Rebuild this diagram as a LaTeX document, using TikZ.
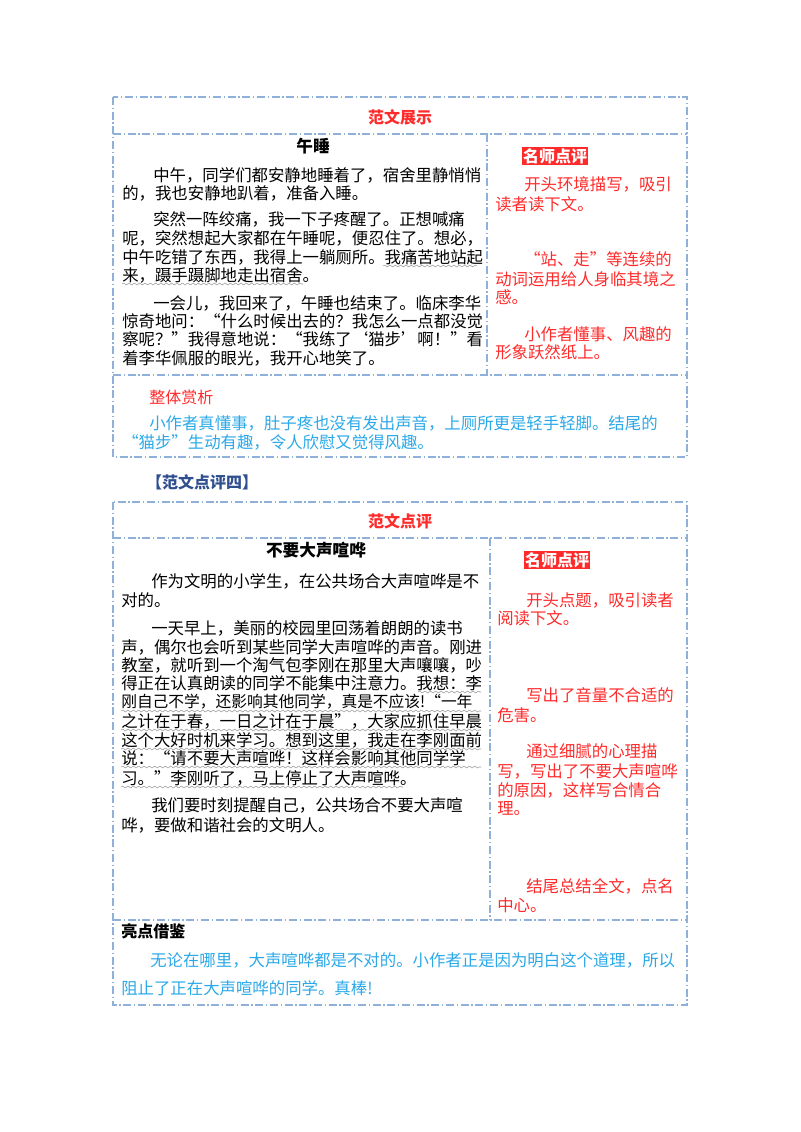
\documentclass[tikz,border=0pt]{standalone}
\usepackage{fontspec}
\setmainfont{Noto Sans CJK SC}
\usetikzlibrary{decorations.pathmorphing}
\definecolor{frame}{HTML}{8FB0D8}
\definecolor{rd}{HTML}{FF2A2A}
\definecolor{bl}{HTML}{2AA8E8}
\definecolor{hd}{HTML}{2F4F8F}
\begin{document}
\begin{tikzpicture}[x=0.75pt,y=-0.75pt,
  box/.style={draw=frame,line width=0.8pt,dash pattern=on 6pt off 2pt on 1pt off 2pt},
  txt/.style={anchor=west,inner sep=0pt,font=\fontsize{12.3pt}{14pt}\selectfont},
  rt/.style={txt,text=rd},
  bt/.style={txt,text=bl},
  ttl/.style={inner sep=0pt,font=\fontsize{12pt}{14pt}\selectfont\bfseries},
  tag/.style={fill=rd,text=white,inner sep=1pt,font=\fontsize{12pt}{14pt}\selectfont\bfseries},
  wavy/.style={draw=gray!80,line width=0.4pt,decorate,decoration={snake,segment length=4pt,amplitude=0.7pt}}]
\useasboundingbox (0,0) rectangle (800,1132);
% box 1
\draw[box] (113,97) rectangle (687,457);
\draw[box] (113,134) -- (687,134);
\draw[box] (113,375) -- (687,375);
\draw[box] (487,134) -- (487,375);
\node[ttl,text=rd] (t1) at (400,117) {范文展示};
\node[ttl,font=\fontsize{12.5pt}{14pt}\selectfont\bfseries] (s1) at (313,146) {午睡};
\node[tag] (m1) at (555,156) {名师点评};
\node[txt] (a1) at (153,175) {中午，同学们都安静地睡着了，宿舍里静悄悄};
\node[txt] (a2) at (122,193) {的，我也安静地趴着，准备入睡。};
\node[txt] (a3) at (153,219) {突然一阵绞痛，我一下子疼醒了。正想喊痛};
\node[txt] (a4) at (122,238) {呢，突然想起大家都在午睡呢，便忍住了。想必，};
\node[txt] (a5) at (122,257) {中午吃错了东西，我得上一躺厕所。我痛苦地站起};
\node[txt] (a6) at (122,275) {来，蹑手蹑脚地走出宿舍。};
\node[txt] (a7) at (153,303) {一会儿，我回来了，午睡也结束了。临床李华};
\node[txt] (a8) at (122,321) {惊奇地问：“什么时候出去的？我怎么一点都没觉};
\node[txt] (a9) at (122,339) {察呢？”我得意地说：“我练了‘猫步’啊！”看};
\node[txt] (a10) at (122,358) {着李华佩服的眼光，我开心地笑了。};
\draw[wavy] (383,266) -- (477,266);
\draw[wavy] (122,284) -- (303,284);
\node[rt] (r1) at (524,184) {开头环境描写，吸引};
\node[rt] (r2) at (495,204) {读者读下文。};
\node[rt] (r3) at (524,259) {“站、走”等连续的};
\node[rt] (r4) at (495,279) {动词运用给人身临其境之};
\node[rt] (r5) at (495,297) {感。};
\node[rt] (r6) at (524,334) {小作者懂事、风趣的};
\node[rt] (r7) at (495,352) {形象跃然纸上。};
\node[ttl,text=rd,anchor=west,font=\fontsize{12pt}{14pt}\selectfont] (z1) at (149,397) {整体赏析};
\node[bt] (b1) at (149,423) {小作者真懂事，肚子疼也没有发出声音，上厕所更是轻手轻脚。结尾的};
\node[bt] (b2) at (122,442) {“猫步”生动有趣，令人欣慰又觉得风趣。};
\node[ttl,text=hd] (h) at (202,482) {【范文点评四】};
% box 2
\draw[box] (113,502) rectangle (687,1005);
\draw[box] (113,538) -- (687,538);
\draw[box] (113,920) -- (687,920);
\draw[box] (490,538) -- (490,920);
\node[ttl,text=rd] (t2) at (400,521) {范文点评};
\node[ttl,font=\fontsize{12.5pt}{14pt}\selectfont\bfseries] (s2) at (316,550) {不要大声喧哗};
\node[tag] (m2) at (557,560) {名师点评};
\node[txt] (c1) at (151,581) {作为文明的小学生，在公共场合大声喧哗是不};
\node[txt] (c2) at (121,600) {对的。};
\node[txt] (c3) at (151,628) {一天早上，美丽的校园里回荡着朗朗的读书};
\node[txt] (c4) at (121,647) {声，偶尔也会听到某些同学大声喧哗的声音。刚进};
\node[txt] (c5) at (121,665) {教室，就听到一个淘气包李刚在那里大声嚷嚷，吵};
\node[txt] (c6) at (121,683) {得正在认真朗读的同学不能集中注意力。我想：李};
\node[txt,font=\fontsize{11.8pt}{14pt}\selectfont] (c7) at (121,702) {刚自己不学，还影响其他同学，真是不应该!“一年};
\node[txt] (c8) at (121,721) {之计在于春，一日之计在于晨”，大家应抓住早晨};
\node[txt] (c9) at (121,740) {这个大好时机来学习。想到这里，我走在李刚面前};
\node[txt] (c10) at (121,758) {说：“请不要大声喧哗！这样会影响其他同学学};
\node[txt] (c11) at (121,778) {习。”李刚听了，马上停止了大声喧哗。};
\node[txt] (c12) at (151,805) {我们要时刻提醒自己，公共场合不要大声喧};
\node[txt] (c13) at (121,825) {哗，要做和谐社会的文明人。};
\draw[wavy] (418,692) -- (481,692);
\draw[wavy] (121,711) -- (481,711);
\draw[wavy] (121,730) -- (481,730);
\draw[wavy] (121,749) -- (481,749);
\draw[wavy] (121,767) -- (481,767);
\draw[wavy] (121,787) -- (403,787);
\node[rt] (q1) at (526,600) {开头点题，吸引读者};
\node[rt] (q2) at (497,618) {阅读下文。};
\node[rt] (q3) at (526,695) {写出了音量不合适的};
\node[rt] (q4) at (497,715) {危害。};
\node[rt] (q5) at (526,751) {通过细腻的心理描};
\node[rt] (q6) at (497,771) {写，写出了不要大声喧哗};
\node[rt] (q7) at (497,790) {的原因，这样写合情合};
\node[rt] (q8) at (497,808) {理。};
\node[rt] (q9) at (526,886) {结尾总结全文，点名};
\node[rt] (q10) at (497,905) {中心。};
\node[ttl,anchor=west] (z2) at (121,931) {亮点借鉴};
\node[bt] (d1) at (150,960) {无论在哪里，大声喧哗都是不对的。小作者正是因为明白这个道理，所以};
\node[bt] (d2) at (121,988) {阻止了正在大声喧哗的同学。真棒!};
\end{tikzpicture}
\end{document}
